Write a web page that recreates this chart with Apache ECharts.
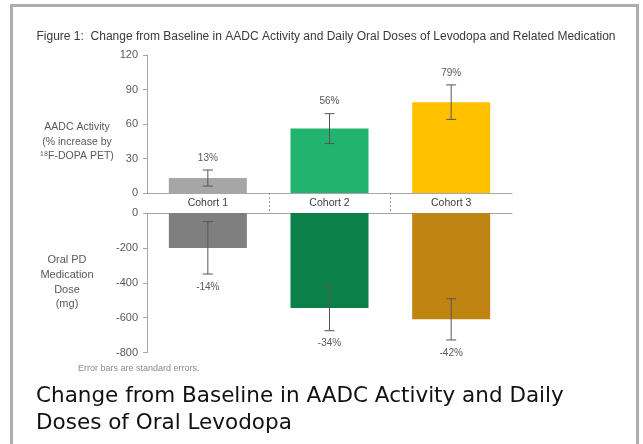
<!DOCTYPE html>
<html><head><meta charset="utf-8">
<script src="https://cdn.jsdelivr.net/npm/echarts@6/dist/echarts.min.js"></script>
<style>html,body{margin:0;padding:0;background:#fff}#c{width:643px;height:444px}</style>
</head><body><div id="c"></div>
<script>
const categories = ['Cohort 1', 'Cohort 2', 'Cohort 3'];
const aadcValues = [13, 56, 79];
const aadcErrors = [7, 13, 15];
const aadcLabels = ['13%', '56%', '79%'];
const doseValues = [-200, -545, -610];
const doseErrors = [150, 130, 118];
const doseLabels = ['-14%', '-34%', '-42%'];
const upperColors = ['#a6a6a6', '#22b36f', '#ffc000'];
const lowerColors = ['#7f7f7f', '#0c8049', '#c08410'];

const chart = echarts.init(document.getElementById('c'), null, {renderer: 'canvas'});
const axisColor = '#a6a6a6';
const txt = '#595959';
const font = 'Liberation Sans';

function errRender(labels, up) {
  return function (params, api) {
    const idx = api.value(0), v = api.value(1), e = api.value(2);
    const x = api.coord([idx, v])[0];
    const yT = api.coord([idx, v + e])[1];
    const yB = api.coord([idx, v - e])[1];
    const ls = {stroke: '#555', lineWidth: 1};
    const ly = up ? yT - 12 : yB + 13;
    const children = [
      {type: 'line', shape: {x1: x, y1: yT, x2: x, y2: yB}, style: ls},
      {type: 'line', shape: {x1: x - 5, y1: yT, x2: x + 5, y2: yT}, style: ls},
      {type: 'line', shape: {x1: x - 5, y1: yB, x2: x + 5, y2: yB}, style: ls},
      {type: 'text', x: x, y: ly, style: {text: labels[params.dataIndex], fill: '#595959', font: '10px "' + font + '"', align: 'center', verticalAlign: 'middle'}}
    ];
    if (up && params.dataIndex > 0) {
      const sx = Math.round(x - api.size([1, 0])[0] / 2) + 0.5;
      const y0 = api.coord([idx, 0])[1];
      children.push({type: 'line', shape: {x1: sx, y1: y0, x2: sx, y2: y0 + 20}, style: {stroke: '#999', lineWidth: 1, lineDash: [2, 2]}});
    }
    return {type: 'group', children: children};
  };
}

const option = {
  animation: false,
  backgroundColor: '#fff',
  graphic: [
    {type: 'rect', shape: {x: 11.5, y: 5.5, width: 626, height: 450}, style: {fill: 'none', stroke: '#adadad', lineWidth: 3}, silent: true}
  ],
  title: [
    {text: 'Figure 1:  Change from Baseline in AADC Activity and Daily Oral Doses of Levodopa and Related Medication', left: 321, top: 26, textAlign: 'center',
     textStyle: {fontFamily: font, fontSize: 12, fontWeight: 'normal', color: '#3a3a3a'}},
    {text: 'AADC Activity\n(% increase by\n¹⁸F-DOPA PET)', left: 72, top: 115, textAlign: 'center',
     textStyle: {fontFamily: font, fontSize: 10.5, fontWeight: 'normal', color: txt, lineHeight: 14.5}},
    {text: 'Oral PD\nMedication\nDose\n(mg)', left: 62, top: 248, textAlign: 'center',
     textStyle: {fontFamily: font, fontSize: 11, fontWeight: 'normal', color: txt, lineHeight: 14.7}},
    {text: 'Error bars are standard errors.', left: 73, top: 359,
     textStyle: {fontFamily: font, fontSize: 9, fontWeight: 'normal', color: '#8a8a8a'}},
    {text: 'Change from Baseline in AADC Activity and Daily\nDoses of Oral Levodopa', left: 31, top: 378,
     textStyle: {fontFamily: 'DejaVu Sans', fontSize: 21.5, fontWeight: 'normal', color: '#111', lineHeight: 27}}
  ],
  grid: [
    {left: 147, right: 131, top: 55, height: 138},
    {left: 147, right: 131, top: 213, height: 139.5}
  ],
  xAxis: [
    {type: 'category', gridIndex: 0, data: categories, position: 'bottom',
     axisLine: {lineStyle: {color: axisColor}},
     axisTick: {show: false},
     axisLabel: {color: '#404040', fontFamily: font, fontSize: 10.5, margin: 5}},
    {type: 'category', gridIndex: 1, data: categories, position: 'top',
     axisLine: {lineStyle: {color: axisColor}}, axisTick: {show: false}, axisLabel: {show: false}}
  ],
  yAxis: [
    {type: 'value', gridIndex: 0, min: 0, max: 120, interval: 30,
     axisLine: {show: true, lineStyle: {color: axisColor}}, axisTick: {show: true, length: 4, lineStyle: {color: axisColor}},
     splitLine: {show: false}, axisLabel: {color: txt, fontFamily: font, fontSize: 11, margin: 9}},
    {type: 'value', gridIndex: 1, min: -800, max: 0, interval: 200,
     axisLine: {show: true, lineStyle: {color: axisColor}}, axisTick: {show: true, length: 4, lineStyle: {color: axisColor}},
     splitLine: {show: false}, axisLabel: {color: txt, fontFamily: font, fontSize: 11, margin: 9}}
  ],
  series: [
    {type: 'bar', xAxisIndex: 0, yAxisIndex: 0, barWidth: 78,
     data: aadcValues.map((v, i) => ({value: v, itemStyle: {color: upperColors[i]}}))},
    {type: 'bar', xAxisIndex: 1, yAxisIndex: 1, barWidth: 78,
     data: doseValues.map((v, i) => ({value: v, itemStyle: {color: lowerColors[i]}}))},
    {type: 'custom', xAxisIndex: 0, yAxisIndex: 0, renderItem: errRender(aadcLabels, true),
     data: aadcValues.map((v, i) => [i, v, aadcErrors[i]]), z: 5},
    {type: 'custom', xAxisIndex: 1, yAxisIndex: 1, renderItem: errRender(doseLabels, false),
     data: doseValues.map((v, i) => [i, v, doseErrors[i]]), z: 5}
  ]
};
chart.setOption(option);
</script></body></html>
